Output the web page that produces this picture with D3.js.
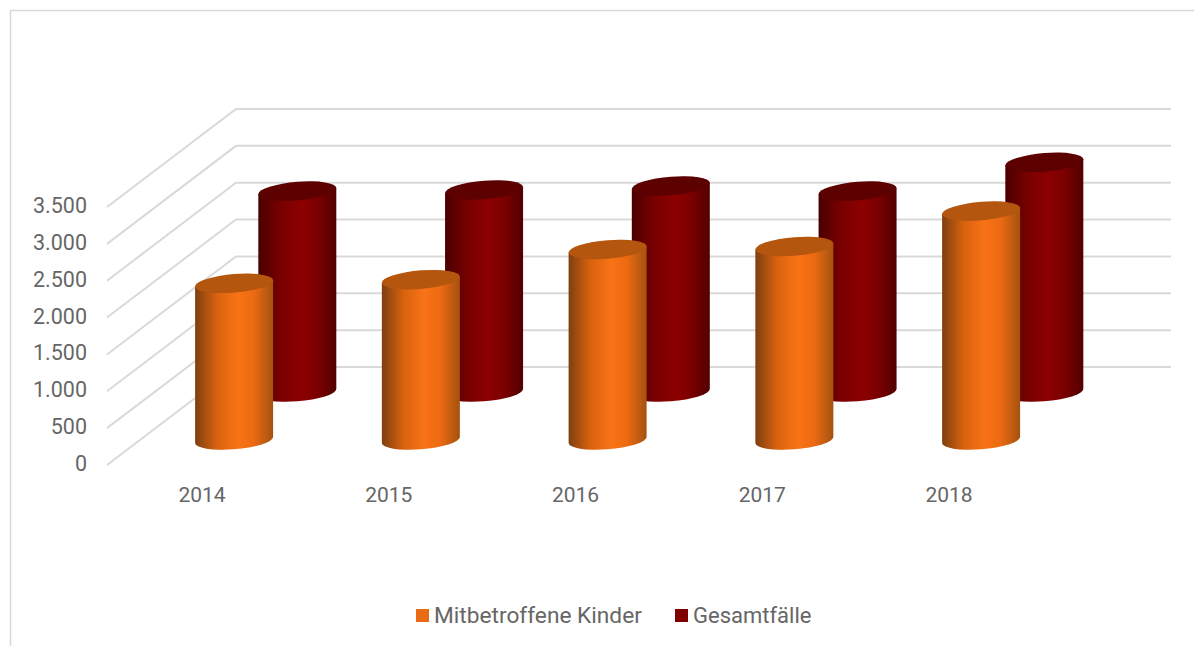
<!DOCTYPE html>
<html>
<head>
<meta charset="utf-8">
<script src="https://cdn.jsdelivr.net/npm/d3@7"></script>
<style>
  html, body { margin: 0; padding: 0; background: #fff; }
  svg { display: block; }
  text { font-family: Roboto, "Open Sans", sans-serif; font-weight: 400; fill: #666666; }
</style>
</head>
<body>
<svg id="chart" width="1194" height="646"></svg>
<script>
const years = ["2014", "2015", "2016", "2017", "2018"];
const kinder = [2125, 2175, 2585, 2625, 3105];
const gesamt = [2725, 2740, 2795, 2725, 3115];
const valueTicks = [0, 500, 1000, 1500, 2000, 2500, 3000, 3500];
const legendNames = ["Mitbetroffene Kinder", "Gesamtfälle"];
const legendSizes = [22.7, 22];
const orangeStops = ["#7e3f10", "#d9620f", "#f97316", "#ec6a12", "#a4520f"];
const redStops = ["#4a0000", "#780000", "#8c0000", "#7c0000", "#520000"];
const stopOffsets = [0, 0.28, 0.55, 0.75, 1];

const svg = d3.select("#chart");
const W = 1194, H = 646;

// Oblique projection: a point on the floor at x, depth d (0 front, 1 back), height v
const floorX = d3.scalePoint().domain(years).range([202.5, 949.5]);
const heightY = d3.scaleLinear().domain([0, 3500]).range([0, 258]);
const depthX = d3.scaleLinear().domain([0, 1]).range([0, 129]);
const depthY = d3.scaleLinear().domain([0, 1]).range([0, 98]);
const FRONT_Y = 465;
const project = (x, d, v) => [x + depthX(d), FRONT_Y - depthY(d) - heightY(v)];

// Chart frame: left edge and top edge only
svg.append("path")
  .attr("d", `M10.5,${H} V10.5 H${W}`)
  .attr("fill", "none").attr("stroke", "#d9d9d9").attr("stroke-width", 1.5);

// Gridlines running along the side wall and then across the back wall
const gridRight = 1171;
const grid = svg.append("g").attr("fill", "none").attr("stroke", "#d9d9d9").attr("stroke-width", 2);
valueTicks.forEach(v => {
  const a = project(107, 0, v), b = project(107, 1, v);
  grid.append("path").attr("d", `M${a} L${b} H${gridRight}`);
});

// Value axis labels
svg.append("g").selectAll("text").data(valueTicks).join("text")
  .attr("x", 87).attr("y", v => project(0, 0, v)[1] + 6)
  .attr("text-anchor", "end").attr("font-size", 21.5)
  .text(v => d3.format(",")(v).replace(/,/g, "."));

// Category labels
svg.append("g").selectAll("text").data(years).join("text")
  .attr("x", d => floorX(d) - 0.5).attr("y", 502)
  .attr("text-anchor", "middle").attr("font-size", 21)
  .text(d => d);

// Shared horizontal gradients for the cylinder sides
const defs = svg.append("defs");
function sideGradient(id, colors) {
  const g = defs.append("linearGradient").attr("id", id)
    .attr("x1", 0).attr("x2", 1).attr("y1", 0).attr("y2", 0);
  colors.forEach((c, i) => g.append("stop").attr("offset", stopOffsets[i]).attr("stop-color", c));
}
sideGradient("side-kinder", orangeStops);
sideGradient("side-gesamt", redStops);

// Cylinders lean slightly because of the chart's rotation
const RX = 39, RY = 9.3, LEAN = -3 / 39;
function cylinders(values, depth, sideId, capColor) {
  const g = svg.append("g");
  values.forEach((v, i) => {
    const [cx, cy] = project(floorX(years[i]), depth, 0);
    const h = heightY(v);
    const c = g.append("g").attr("transform", `matrix(1,${LEAN},0,1,${cx},${cy - 1})`);
    c.append("path")
      .attr("d", `M${-RX},${-h} V0 A${RX},${RY} 0 0 0 ${RX},0 V${-h} Z`)
      .attr("fill", `url(#${sideId})`);
    c.append("ellipse")
      .attr("cx", 0).attr("cy", -h).attr("rx", RX).attr("ry", RY)
      .attr("fill", capColor);
  });
}
cylinders(gesamt, 0.735, "side-gesamt", "#5c0000");
cylinders(kinder, 0.245, "side-kinder", "#b5560f");

// Legend
const legendColors = ["#e96c14", "#7f0000"];
const legendX = [416, 675];
const legend = svg.append("g");
legendNames.forEach((name, i) => {
  legend.append("rect").attr("x", legendX[i]).attr("y", 609)
    .attr("width", 13).attr("height", 13).attr("fill", legendColors[i]);
  legend.append("text").attr("x", legendX[i] + 18).attr("y", 622.5)
    .attr("font-size", legendSizes[i]).text(name);
});
</script>
</body>
</html>
